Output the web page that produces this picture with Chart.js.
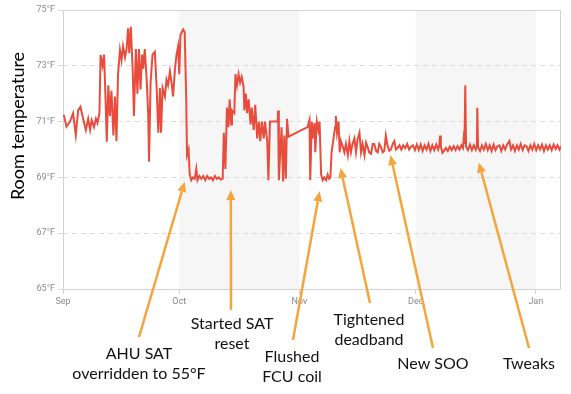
<!DOCTYPE html>
<html>
<head>
<meta charset="utf-8">
<script src="https://cdn.jsdelivr.net/npm/chart.js@4.4.1/dist/chart.umd.min.js"></script>
<style>
  html, body { margin: 0; padding: 0; background: #fff; }
</style>
</head>
<body>
<canvas id="chart" width="571" height="394"></canvas>
<script>
// x is days since Sep 1
const monthDays = [0, 30, 61, 91, 122];
const monthLabels = ['Sep', 'Oct', 'Nov', 'Dec', 'Jan'];
const tempTicks = [65, 67, 69, 71, 73, 75];

const sepDays = [0.2, 0.9, 1.8, 2.6, 3.3, 3.9, 4.5, 5.2, 5.9, 6.5,
  7.0, 7.4, 8.0, 8.5, 8.9, 9.4, 9.7, 10.2, 10.6, 11.0,
  11.3, 11.7, 12.1, 12.5, 13.0, 13.4, 13.8, 14.2, 14.7, 15.1,
  15.5, 16.0, 16.4, 16.8, 17.1, 17.5, 18.0, 18.3, 18.8, 19.2,
  19.6, 20.0, 20.4, 20.7, 21.1, 21.6, 22.0, 22.2, 22.6, 23.1,
  23.7, 24.1, 24.6, 25.0, 25.3, 25.7, 26.3, 26.7, 27.1, 27.6,
  28.0, 28.4, 28.9, 29.3, 29.7, 30.0, 30.3, 31.0];
const sepTemps = [71.24, 70.82, 71.0, 71.3, 70.52, 71.4, 71.53, 71.1, 70.7, 71.1,
  70.7, 71.05, 70.8, 71.1, 70.95, 71.3, 73.39, 73.0, 73.4, 71.7,
  70.28, 72.3, 71.2, 72.1, 70.5, 71.9, 70.3, 72.7, 73.57, 73.2,
  73.7, 73.3, 73.6, 74.34, 73.45, 74.4, 72.8, 71.2, 73.6, 72.0,
  73.6, 72.15, 73.4, 72.9, 73.6, 72.5, 71.2, 69.56, 72.4, 73.4,
  73.5, 72.4, 70.6, 72.2, 70.6, 72.2, 71.9, 72.5, 72.3, 72.8,
  72.4, 71.9, 72.9, 73.4, 73.7, 72.7, 74.1, 74.3];

const octDays = [31.4, 31.8, 32.0, 32.4, 32.7, 33.1, 33.5, 34.0, 34.4, 34.7,
  35.2, 35.7, 36.2, 36.7, 37.2, 37.7, 38.2, 38.7, 39.2, 39.7,
  40.2, 40.7, 41.2, 41.5, 41.9, 42.3, 42.7, 43.0, 43.4, 43.6,
  44.2, 44.5, 44.9, 45.3, 45.7, 46.1, 46.6, 46.8, 47.2, 47.5,
  47.9, 48.4, 48.7, 49.2, 49.6, 50.1, 50.5, 50.9, 51.3, 51.8,
  52.1, 52.7, 53.0, 53.4, 55.4, 55.5, 55.7, 56.1, 56.4, 56.8,
  57.1, 57.5, 57.8, 58.2, 63.1];
const octTemps = [74.2, 71.8, 69.8, 70.0, 69.1, 68.9, 69.0, 68.95, 69.3, 68.9,
  69.05, 68.95, 69.05, 68.9, 69.05, 68.95, 69.0, 68.9, 69.05, 68.95,
  69.0, 68.92, 68.95, 70.6, 69.3, 71.5, 70.8, 71.8, 70.9, 71.4,
  71.3, 72.7, 72.3, 72.7, 72.4, 72.6, 72.25, 71.4, 72.0, 71.3,
  71.8, 70.9, 71.5, 70.7, 71.6, 70.4, 71.0, 70.3, 71.0, 70.4,
  71.0, 70.3, 68.9, 71.0, 71.0, 71.4, 68.9, 70.0, 70.8, 68.85,
  70.5, 68.95, 71.1, 70.46, 70.8];

const novDays = [63.6, 63.8, 64.2, 64.5, 64.9, 65.1, 65.5, 65.9, 66.2, 66.6,
  67.0, 67.4, 67.9, 68.3, 68.7, 69.0, 69.3, 69.8, 70.2, 70.4,
  70.7, 71.1, 71.4, 71.7, 72.2, 72.6, 73.0, 73.5, 73.9, 74.3,
  74.7, 75.2, 75.6, 76.0, 76.5, 76.9, 77.3, 77.8, 78.2, 78.6,
  79.0, 79.5, 79.9, 80.3, 80.8, 81.2, 81.6, 82.0, 82.5, 82.9,
  83.3, 83.8, 84.2, 84.6, 85.1, 85.5, 85.9, 86.3, 86.8, 87.3,
  87.8, 88.3, 88.8, 89.3, 89.8, 90.3, 90.8];
const novTemps = [71.06, 68.9, 71.0, 70.4, 70.95, 69.9, 71.0, 70.7, 71.0, 69.1,
  68.9, 69.0, 68.9, 69.1, 68.95, 69.0, 69.9, 70.4, 70.8, 71.2,
  70.6, 71.0, 69.9, 70.3, 70.1, 69.9, 70.2, 69.8, 70.3, 69.9,
  70.2, 70.4, 69.9, 70.35, 70.6, 69.9, 70.2, 69.8, 70.25, 70.1,
  69.9, 69.85, 70.2, 70.2, 69.95, 69.9, 70.2, 70.1, 69.9, 69.95,
  70.5, 70.1, 69.95, 70.0, 70.2, 70.3, 70.0, 70.05, 70.15, 70.0,
  70.15, 70.05, 70.2, 70.0, 70.1, 70.15, 69.98];

const decJanDays = [91.3, 91.8, 92.3, 92.8, 93.3, 93.8, 94.3, 94.8, 95.3, 95.8,
  96.3, 96.8, 97.1, 97.3, 97.5, 97.9, 98.3, 98.8, 99.3, 99.8,
  100.3, 100.8, 101.3, 101.8, 102.3, 102.8, 103.2, 103.4, 103.6, 103.8,
  104.0, 104.5, 105.0, 105.5, 106.0, 106.5, 106.8, 106.9, 107.1, 107.6,
  108.1, 108.6, 109.1, 109.6, 110.1, 110.6, 111.1, 111.6, 112.1, 112.6,
  113.1, 113.6, 114.1, 114.6, 115.2, 115.6, 116.1, 116.6, 117.1, 117.6,
  118.1, 118.6, 119.1, 119.6, 120.1, 120.6, 121.1, 121.6, 122.1, 122.6,
  123.1, 123.6, 124.1, 124.6, 125.1, 125.6, 126.1, 126.6, 127.1, 127.6,
  128.1, 128.5];
const decJanTemps = [70.18, 69.98, 70.18, 69.95, 70.15, 70.0, 70.2, 69.95, 70.15, 69.98,
  70.18, 70.0, 70.15, 70.5, 70.1, 69.88, 69.95, 70.05, 69.95, 70.1,
  69.98, 70.12, 69.98, 70.12, 70.0, 70.15, 70.05, 70.4, 70.2, 72.3,
  70.1, 69.98, 70.18, 69.98, 70.15, 70.0, 70.15, 71.5, 70.08, 69.95,
  70.15, 70.0, 70.2, 69.98, 70.15, 69.95, 70.18, 69.98, 70.12, 70.15,
  69.95, 70.15, 70.0, 70.18, 70.3, 70.0, 70.15, 69.95, 70.15, 70.0,
  70.2, 69.98, 70.15, 70.12, 69.95, 70.15, 70.0, 70.2, 69.98, 70.15,
  70.0, 70.18, 69.95, 70.15, 70.0, 70.15, 69.98, 70.18, 70.02, 70.15,
  70.0, 70.12];

// annotations: text lines, and the (day, temp) the arrow points at
const noteTexts = [['AHU SAT', 'overridden to 55°F'], ['Started SAT', 'reset'], ['Flushed', 'FCU coil'],
  ['Tightened', 'deadband'], ['New SOO'], ['Tweaks']];
const noteDays = [31.4, 43.3, 66.2, 71.6, 84.5, 107.3];
const noteTemps = [68.84, 68.55, 68.5, 69.34, 69.8, 69.53];

const allDays = sepDays.concat(octDays, novDays, decJanDays);
const allTemps = sepTemps.concat(octTemps, novTemps, decJanTemps);
const points = allDays.map((d, i) => ({ x: d, y: allTemps[i] }));

const ORANGE = '#f5a53c';

function arrow(ctx, x1, y1, x2, y2) {
    const ang = Math.atan2(y2 - y1, x2 - x1);
    const len = 10, half = 4.5;
    const bx = x2 - Math.cos(ang) * len, by = y2 - Math.sin(ang) * len;
    ctx.strokeStyle = ORANGE;
    ctx.fillStyle = ORANGE;
    ctx.lineWidth = 2.5;
    ctx.beginPath();
    ctx.moveTo(x1, y1);
    ctx.lineTo(bx, by);
    ctx.stroke();
    ctx.beginPath();
    ctx.moveTo(x2, y2);
    ctx.lineTo(bx + Math.sin(ang) * half, by - Math.cos(ang) * half);
    ctx.lineTo(bx - Math.sin(ang) * half, by + Math.cos(ang) * half);
    ctx.closePath();
    ctx.fill();
}

const decor = {
    id: 'decor',
    beforeDraw(chart) {
        const { ctx, chartArea: a, scales: { x } } = chart;
        ctx.save();
        ctx.fillStyle = '#fff';
        ctx.fillRect(0, 0, chart.width, chart.height);
        // shaded months (Oct, Dec)
        ctx.fillStyle = '#f6f6f6';
        [[1, 2], [3, 4]].forEach(([m0, m1]) => {
            const l = x.getPixelForValue(monthDays[m0]);
            const r = x.getPixelForValue(monthDays[m1]);
            ctx.fillRect(l, a.top, r - l, a.bottom - a.top);
        });
        ctx.restore();
    },
    beforeDatasetsDraw(chart) {
        const { ctx, chartArea: a } = chart;
        ctx.save();
        ctx.strokeStyle = '#d2d2d2';
        ctx.lineWidth = 1;
        ctx.strokeRect(a.left + 0.5, a.top + 0.5, a.right - a.left - 1, a.bottom - a.top);
        ctx.restore();
    },
    afterDraw(chart) {
        const { ctx, scales: { x, y } } = chart;
        ctx.save();
        // y title
        ctx.translate(18, 126);
        ctx.rotate(-Math.PI / 2);
        ctx.font = '18px Lato';
        ctx.fillStyle = '#000';
        ctx.textAlign = 'center';
        ctx.textBaseline = 'middle';
        ctx.fillText('Room temperature', 0, 0);
        ctx.restore();

        // arrow tails and label anchors (first line baseline)
        const tails = [[139, 337], [231, 310], [293, 340], [370, 303], [433, 348], [529, 348]];
        const labels = [[139, 359], [232, 329], [292, 362], [369, 325], [433, 369], [529, 369]];
        ctx.save();
        noteTexts.forEach((lines, i) => {
            const tx = x.getPixelForValue(noteDays[i]);
            const ty = y.getPixelForValue(noteTemps[i]);
            arrow(ctx, tails[i][0], tails[i][1], tx, ty);
            ctx.font = '16px Lato';
            ctx.fillStyle = '#111';
            ctx.textAlign = 'center';
            ctx.textBaseline = 'alphabetic';
            lines.forEach((t, k) => ctx.fillText(t, labels[i][0], labels[i][1] + k * 20));
        });
        ctx.restore();
    }
};

new Chart(document.getElementById('chart'), {
    type: 'line',
    data: {
        datasets: [{
            data: points,
            borderColor: '#e84c3d',
            borderWidth: 2,
            pointRadius: 0,
            tension: 0,
            fill: false
        }]
    },
    options: {
        responsive: false,
        animation: false,
        parsing: false,
        layout: { padding: { left: 0, right: 10, top: 10, bottom: 85 } },
        plugins: { legend: { display: false }, tooltip: { enabled: false } },
        scales: {
            x: {
                type: 'linear',
                min: 0,
                max: 128.5,
                afterBuildTicks: s => { s.ticks = monthDays.map(v => ({ value: v })); },
                afterFit: s => { s.height = 20; },
                ticks: {
                    callback: v => monthLabels[monthDays.indexOf(v)],
                    font: { family: 'Roboto', size: 9 },
                    color: '#8a8a8a',
                    padding: 2,
                    maxRotation: 0,
                    autoSkip: false
                },
                grid: { drawOnChartArea: false, tickLength: 5, color: '#d2d2d2' },
                border: { display: false }
            },
            y: {
                min: 65,
                max: 75,
                afterBuildTicks: s => { s.ticks = tempTicks.map(v => ({ value: v })); },
                afterFit: s => { s.width = 63; },
                ticks: {
                    callback: v => v + '°F',
                    font: { family: 'Roboto', size: 9 },
                    color: '#8a8a8a',
                    padding: 3
                },
                grid: { color: '#dcdcdc', tickLength: 5, tickBorderDash: [] },
                border: { display: false, dash: [5, 4] }
            }
        }
    },
    plugins: [decor]
});
</script>
</body>
</html>
